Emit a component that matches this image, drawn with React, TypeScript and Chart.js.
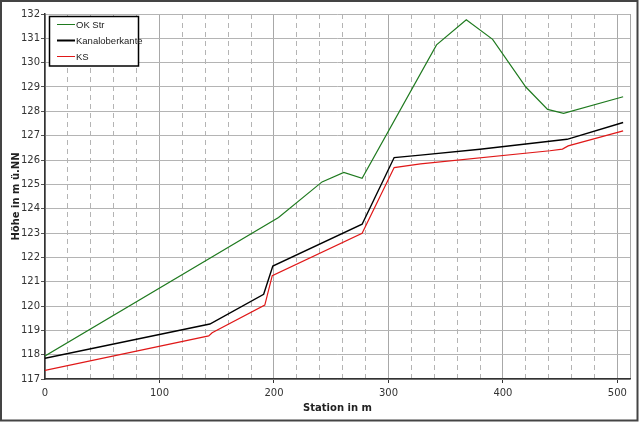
import React, { useEffect, useRef } from "react";
import { Chart, registerables } from "chart.js";

Chart.register(...registerables);

// Data
const okStrX = [0, 204, 242, 261, 277, 342, 368, 391, 420, 439, 453, 505];
const okStrY = [117.95, 123.64, 125.1, 125.49, 125.25, 130.73, 131.76, 130.96, 129.0, 128.08, 127.92, 128.6];

const kanalX = [0, 144, 191, 199, 277, 305, 328, 380, 456, 505];
const kanalY = [117.85, 119.26, 120.48, 121.64, 123.36, 126.1, 126.2, 126.44, 126.85, 127.54];

const ksX = [0, 143, 146, 192, 198.5, 277, 305, 328, 441, 452, 457, 505];
const ksY = [117.35, 118.77, 118.9, 120.04, 121.25, 122.99, 125.69, 125.84, 126.38, 126.45, 126.58, 127.2];

const seriesLabels = ["OK Str", "Kanaloberkante", "KS"];
const xTitle = "Station in m";
const yTitle = "Höhe in m ü.NN";
const xMin = 0;
const xMax = 511;
const xStep = 20;
const yMin = 117;
const yMax = 132;

const FONT = "'DejaVu Sans', sans-serif";
const LEGEND_FONT = "'Liberation Sans', sans-serif";

const toPts = (xs: number[], ys: number[]) => xs.map((x, i) => ({ x, y: ys[i] }));

const legendPlugin = {
  id: "customLegendBorder",
  afterDraw(chart: any) {
    const ctx = chart.ctx as CanvasRenderingContext2D;
    ctx.save();
    const bx = 49.5, by = 16.5, bw = 89, bh = 49.5;
    ctx.fillStyle = "#fff";
    ctx.fillRect(bx, by, bw, bh);
    ctx.strokeStyle = "#000";
    ctx.lineWidth = 1.5;
    ctx.strokeRect(bx, by, bw, bh);
    const ys = [24.5, 40.5, 56.5];
    chart.data.datasets.forEach((ds: any, i: number) => {
      ctx.strokeStyle = ds.borderColor;
      ctx.lineWidth = i === 1 ? 2 : 1;
      ctx.beginPath();
      ctx.moveTo(57, ys[i]);
      ctx.lineTo(75, ys[i]);
      ctx.stroke();
      ctx.fillStyle = "#222";
      ctx.font = `9.5px ${LEGEND_FONT}`;
      ctx.textBaseline = "middle";
      ctx.textAlign = "left";
      ctx.fillText(ds.label, 76, ys[i] + 0.5);
    });
    ctx.strokeStyle = "#444";
    ctx.lineWidth = 2;
    ctx.strokeRect(1, 1, 636.5, 419.5);
    ctx.restore();
  },
};

export default function App() {
  const ref = useRef<HTMLCanvasElement | null>(null);
  useEffect(() => {
    document.body.style.margin = "0";
    const canvas = ref.current!;
    const chart = new Chart(canvas, {
      type: "line",
      data: {
        datasets: [
          {
            label: seriesLabels[0],
            data: toPts(okStrX, okStrY),
            borderColor: "#1f7a1f",
            borderWidth: 1.2,
            pointRadius: 0,
            tension: 0,
          },
          {
            label: seriesLabels[1],
            data: toPts(kanalX, kanalY),
            borderColor: "#000000",
            borderWidth: 1.4,
            pointRadius: 0,
            tension: 0,
          },
          {
            label: seriesLabels[2],
            data: toPts(ksX, ksY),
            borderColor: "#e01818",
            borderWidth: 1.2,
            pointRadius: 0,
            tension: 0,
          },
        ],
      },
      options: {
        animation: false,
        responsive: false,
        maintainAspectRatio: false,
        devicePixelRatio: 1,
        layout: { padding: { top: 14, right: 10, left: 0, bottom: 0 } },
        plugins: { legend: { display: false }, tooltip: { enabled: false } },
        scales: {
          x: {
            type: "linear",
            min: xMin,
            max: xMax,
            afterFit: (s: any) => {
              s.height = 43;
            },
            afterBuildTicks: (s: any) => {
              const t: any[] = [];
              for (let v = xMin; v <= xMax; v += xStep) t.push({ value: v });
              t.push({ value: xMax });
              s.ticks = t;
            },
            ticks: {
              autoSkip: false,
              maxRotation: 0,
              padding: 4,
              color: "#333",
              font: { family: FONT, size: 10 },
              callback: (v: any) => (Number(v) % 100 === 0 ? String(v) : ""),
            },
            grid: {
              color: (c: any) => {
                const v = c.tick ? c.tick.value : 0;
                return v % 100 === 0 || v === xMax ? "#a8a8a8" : "#b4b4b4";
              },
              lineWidth: 1,
              tickLength: 4,
              tickColor: (c: any) => {
                const v = c.tick ? c.tick.value : 0;
                return v % 100 === 0 && v !== 0 ? "#333" : "rgba(0,0,0,0)";
              },
            },
            border: {
              display: true,
              color: "#333",
              width: 1.5,
              dash: (c: any) => {
                if (!c.tick) return [];
                const v = c.tick.value;
                return v % 100 === 0 || v === xMax ? [] : [5, 4];
              },
            },
            title: {
              display: true,
              text: xTitle,
              color: "#222",
              font: { family: FONT, size: 10, weight: "bold" },
              padding: { top: 0, bottom: 8 },
            },
          },
          y: {
            type: "linear",
            min: yMin,
            max: yMax,
            afterFit: (s: any) => {
              s.width = 45;
            },
            ticks: {
              stepSize: 1,
              padding: 1,
              color: "#333",
              font: { family: FONT, size: 10 },
            },
            grid: {
              color: "#b4b4b4",
              lineWidth: 1,
              tickLength: 4,
              tickColor: "#555",
            },
            border: { display: true, color: "#333", width: 1.5 },
            title: {
              display: true,
              text: yTitle,
              color: "#222",
              font: { family: FONT, size: 10, weight: "bold" },
              padding: { top: 10, bottom: 0 },
            },
          },
        },
      },
      plugins: [legendPlugin],
    });
    return () => chart.destroy();
  }, []);
  return (
    <div style={{ position: "fixed", left: 0, top: 0, width: 640, height: 422, background: "#fff" }}>
      <canvas ref={ref} width={640} height={422} style={{ width: 640, height: 422, display: "block" }} />
    </div>
  );
}
